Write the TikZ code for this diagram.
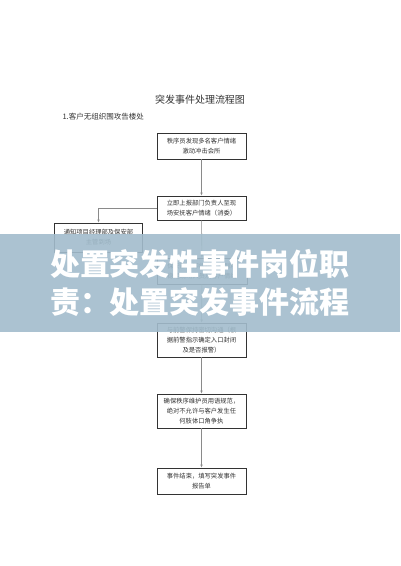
\documentclass[tikz,border=0pt]{standalone}
\usepackage{fontspec}
\setmainfont{Noto Sans CJK SC}
\newfontfamily\cjk{Noto Sans CJK SC}
\usetikzlibrary{arrows.meta}
\definecolor{banner}{HTML}{A2BCCC}
\definecolor{txt}{HTML}{333333}
\definecolor{conn}{HTML}{8A8A8A}
\tikzset{
  x=1pt, y=-1pt,
  box/.style={draw=black!80, line width=0.6pt, fill=white, minimum width=89pt, inner sep=0pt,
    align=center, text=txt, font=\cjk\fontsize{6.3}{10}\selectfont},
  conn/.style={draw=conn, line width=0.6pt, -{Latex[length=3.2pt,width=2.6pt]}},
}
\begin{document}
\begin{tikzpicture}
\useasboundingbox[fill=white] (0,0) rectangle (400,566);
\node[text=txt, font=\cjk\fontsize{10}{12}\selectfont] (title) at (200,100) {突发事件处理流程图};
\node[text=txt, font=\cjk\fontsize{7.5}{9}\selectfont, anchor=west] (sub) at (59,117) {1.客户无组织围攻告楼处};

\node[box, minimum height=26pt] (b1) at (201.5,146) {秩序员发现多名客户情绪\\激动冲击会所};
\node[box, minimum height=24pt] (b2) at (201.5,208) {立即上报部门负责人至现\\场安抚客户情绪（消委）};
\node[box, minimum width=88pt, minimum height=29pt] (b3) at (98.5,237.5) {通知项目经理部及保安部\\主管到场};
\node[box, minimum width=90pt, minimum height=26pt] (b4) at (202,271) {保安部立即组织人员到场\\稳定现场人员及客户情绪};
\node[box, minimum height=34pt] (b5) at (201.5,340) {与前警保持密切沟通（根\\据前警指示确定入口封闭\\及是否报警）};
\node[box, minimum height=34pt] (b6) at (201.5,411) {确保秩序维护员用语规范，\\绝对不允许与客户发生任\\何肢体口角争执};
\node[box, minimum height=26pt] (b7) at (201.5,481) {事件结束，填写突发事件\\报告单};

\draw[conn] (b1) -- (b2);
\draw[conn] (b2.west) -| (b3.north);
\draw[conn] (b2) -- (b4);
\draw[conn] (b4) -- (b5);
\draw[conn] (b5) -- (b6);
\draw[conn] (b6) -- (b7);

\fill[banner, opacity=0.9] (0,234) rectangle (400,332);
\node[text=white, font=\cjk\bfseries\fontsize{30}{38}\selectfont, align=center] (head) at (200,283) {处置突发性事件岗位职\\责：处置突发事件流程};
\end{tikzpicture}
\end{document}
